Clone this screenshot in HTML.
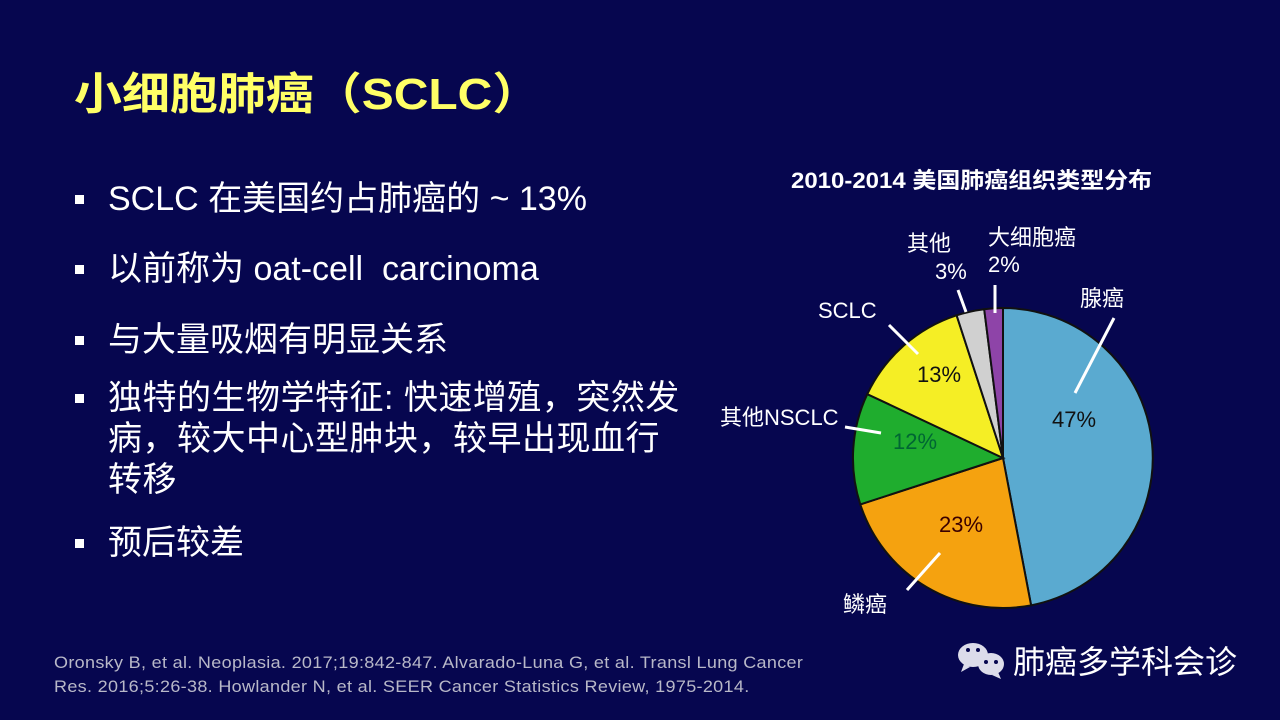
<!DOCTYPE html>
<html><head><meta charset="utf-8"><style>
body{margin:0;width:1280px;height:720px;background:#06064f;overflow:hidden;position:relative;font-family:"Liberation Sans","Noto Sans CJK SC",sans-serif;color:#fff}
.t{position:absolute;white-space:nowrap}
.title{left:74px;top:58px;font-size:44px;font-weight:bold;color:#ffff66;transform:scaleX(1.09);transform-origin:left}
.b{position:absolute;left:108px;font-size:34px;line-height:41px}
.b:before{content:"";position:absolute;left:-33px;top:16px;width:9px;height:9px;background:#fff}
.ref{left:54px;top:651px;font-size:17px;color:#b8b8c8;line-height:24px;letter-spacing:0.3px;transform:scaleX(1.06);transform-origin:left}
</style></head><body>
<div class="t title">小细胞肺癌（SCLC）</div>
<div class="b" style="top:179px">SCLC 在美国约占肺癌的 ~ 13%</div>
<div class="b" style="top:249px">以前称为 oat-cell&nbsp; carcinoma</div>
<div class="b" style="top:320px">与大量吸烟有明显关系</div>
<div class="b" style="top:378px;width:640px;letter-spacing:0.5px">独特的生物学特征: 快速增殖，突然发<br>病，较大中心型肿块，较早出现血行<br>转移</div>
<div class="b" style="top:523px">预后较差</div>
<div class="t ref">Oronsky B, et al. Neoplasia. 2017;19:842-847. Alvarado-Luna G, et al. Transl Lung Cancer<br>Res. 2016;5:26-38. Howlander N, et al. SEER Cancer Statistics Review, 1975-2014.</div>
<div class="t" style="left:791px;top:163px;font-size:22px;font-weight:bold;transform:scaleX(1.09);transform-origin:left">2010-2014 美国肺癌组织类型分布</div>
<svg width="1280" height="720" style="position:absolute;left:0;top:0" font-family="Liberation Sans, Noto Sans CJK SC, sans-serif">
<g stroke="#111" stroke-width="2">
<path d="M1003 458 L1003 308 A150 150 0 0 1 1031.1 605.3Z" fill="#5aaad0"/>
<path d="M1003 458 L1031.1 605.3 A150 150 0 0 1 860.3 504.4Z" fill="#f5a20f"/>
<path d="M1003 458 L860.3 504.4 A150 150 0 0 1 867.3 394.1Z" fill="#1fad2e"/>
<path d="M1003 458 L867.3 394.1 A150 150 0 0 1 956.6 315.3Z" fill="#f5ee25"/>
<path d="M1003 458 L956.6 315.3 A150 150 0 0 1 984.2 309.2Z" fill="#d0d0d0"/>
<path d="M1003 458 L984.2 309.2 A150 150 0 0 1 1003 308Z" fill="#8e44a8"/>
</g>
<g stroke="#fff" stroke-width="3">
<line x1="1114" y1="318" x2="1075" y2="393"/>
<line x1="940" y1="553" x2="907" y2="590"/>
<line x1="845" y1="427" x2="881" y2="433"/>
<line x1="889" y1="325" x2="918" y2="354"/>
<line x1="958" y1="290" x2="966" y2="312"/>
<line x1="995" y1="285" x2="995" y2="313"/>
</g>
<g font-size="22" fill="#111" text-anchor="middle">
<text x="1074" y="427">47%</text>
<text x="961" y="532" fill="#3a0000">23%</text>
<text x="915" y="449" fill="#063">12%</text>
<text x="939" y="382">13%</text>
</g>
<g font-size="22" fill="#fff">
<text x="1080" y="306">腺癌</text>
<text x="843" y="612">鳞癌</text>
<text x="720" y="425">其他NSCLC</text>
<text x="818" y="318">SCLC</text>
<text x="907" y="251">其他</text>
<text x="935" y="279">3%</text>
<text x="988" y="245">大细胞癌</text>
<text x="988" y="272">2%</text>
</g>
<g fill="#dcdcea">
<ellipse cx="973" cy="655" rx="15" ry="12"/><path d="M964 664 l-3 8 l9 -5z"/>
<ellipse cx="991" cy="664" rx="13" ry="11"/><path d="M998 672 l3 7 l-9 -4z"/>
</g>
<g fill="#06064f"><circle cx="968" cy="650" r="2"/><circle cx="978" cy="650" r="2"/><circle cx="986" cy="662" r="2"/><circle cx="996" cy="662" r="2"/></g>
<text x="1013" y="673" font-size="32" fill="#fff">肺癌多学科会诊</text>
</svg>
</body></html>
